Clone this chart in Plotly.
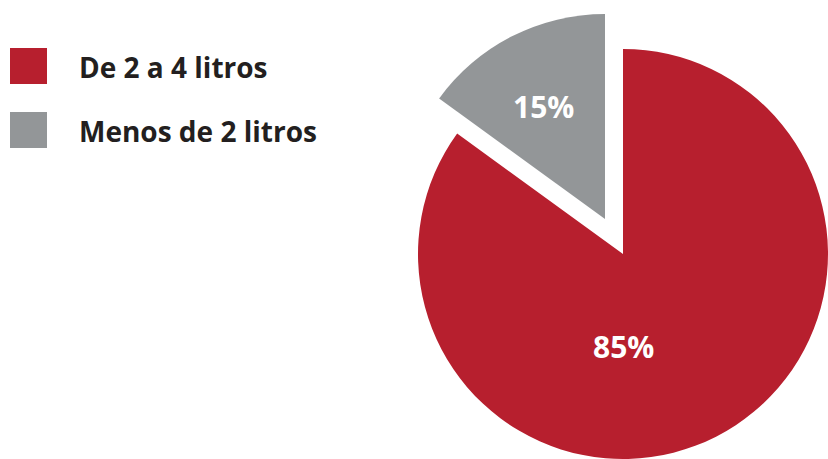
import plotly.graph_objects as go

# Share of households by litres consumed
labels = ["De 2 a 4 litros", "Menos de 2 litros"]
values = [85, 15]
colors = ["#B71F2E", "#939698"]

W, H = 828, 459
TRANSPARENT = "rgba(0,0,0,0)"
FONT = "Open Sans"

# Pie geometry in pixels (centre of the main pie, radius, pull-out offset)
R = 205
CX, CY = 623, 254
PULL_DX, PULL_DY = -18, -35


def domain(cx, cy, r):
    return dict(
        x=[(cx - r) / W, (cx + r) / W],
        y=[(H - (cy + r)) / H, (H - (cy - r)) / H],
    )


def pie_trace(visible_idx, cx, cy):
    cols = [colors[i] if i == visible_idx else TRANSPARENT for i in range(len(values))]
    return go.Pie(
        labels=labels,
        values=values,
        marker=dict(colors=cols, line=dict(width=0)),
        sort=False,
        direction="clockwise",
        rotation=0,
        textinfo="none",
        hoverinfo="skip",
        showlegend=False,
        domain=domain(cx, cy, R),
    )


fig = go.Figure()
# main slice
fig.add_trace(pie_trace(0, CX, CY))
# exploded slice, shifted along its mid-angle
fig.add_trace(pie_trace(1, CX + PULL_DX, CY + PULL_DY))

annotations = []
shapes = []

# value labels
label_pos = [
    (CX, CY + 92),
    (CX + PULL_DX - 62, CY + PULL_DY - 113),
]
for (px, py), val in zip(label_pos, values):
    annotations.append(dict(
        x=px / W, y=1 - py / H, xref="paper", yref="paper",
        text=f"<b>{val}%</b>", showarrow=False,
        xanchor="center", yanchor="middle",
        font=dict(family=FONT, size=30, color="#FFFFFF"),
    ))

# custom legend with large swatches
for k, (lab, col) in enumerate(zip(labels, colors)):
    top = 48 + k * 64
    shapes.append(dict(
        type="rect", xref="paper", yref="paper",
        x0=10 / W, x1=47 / W, y0=1 - (top + 36) / H, y1=1 - top / H,
        fillcolor=col, line=dict(width=0),
    ))
    annotations.append(dict(
        x=77 / W, y=1 - (top + 19) / H, xref="paper", yref="paper",
        text=f"<b>{lab}</b>", showarrow=False,
        xanchor="left", yanchor="middle",
        font=dict(family=FONT, size=28, color="#231F20"),
    ))

fig.update_layout(
    width=W, height=H,
    margin=dict(l=0, r=0, t=0, b=0),
    paper_bgcolor="#FFFFFF",
    plot_bgcolor="#FFFFFF",
    annotations=annotations,
    shapes=shapes,
)

fig.write_html("out.html")
